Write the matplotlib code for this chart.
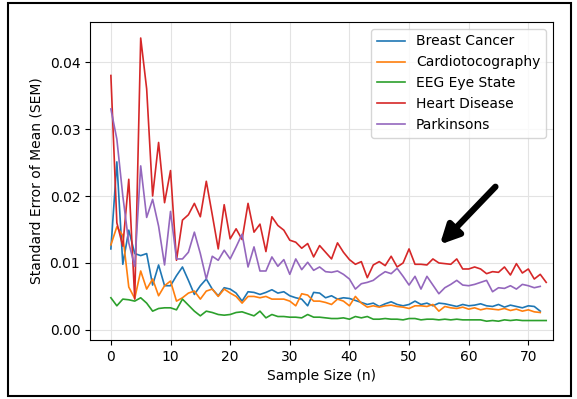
import numpy as np
import matplotlib
matplotlib.use("Agg")
import matplotlib.pyplot as plt
from matplotlib.patches import Rectangle

# SEM per sample size
breast_cancer = [0.0121, 0.0251, 0.0098, 0.0149, 0.0114, 0.0111, 0.0114, 0.0067, 0.0097, 0.0066,
                 0.0066, 0.0081, 0.0094, 0.0074, 0.0053, 0.0066, 0.0076, 0.0061, 0.0051, 0.0063,
                 0.0061, 0.0055, 0.0043, 0.0057, 0.0056, 0.0053, 0.0056, 0.0060, 0.0055, 0.0057,
                 0.0051, 0.0048, 0.0046, 0.0036, 0.0056, 0.0055, 0.0048, 0.0051, 0.0046, 0.0048,
                 0.0047, 0.0044, 0.0041, 0.0038, 0.0040, 0.0035, 0.0039, 0.0042, 0.0038, 0.0036,
                 0.0038, 0.0043, 0.0038, 0.0040, 0.0036, 0.0040, 0.0039, 0.0037, 0.0035, 0.0038,
                 0.0036, 0.0037, 0.0039, 0.0036, 0.0035, 0.0038, 0.0034, 0.0037, 0.0035, 0.0033,
                 0.0036, 0.0035, 0.0028]
cardio = [0.0127, 0.0154, 0.0141, 0.0064, 0.0047, 0.0088, 0.0061, 0.0076, 0.0051, 0.0066,
          0.0073, 0.0043, 0.0048, 0.0055, 0.0058, 0.0046, 0.0058, 0.0061, 0.0050, 0.0061,
          0.0055, 0.0050, 0.0040, 0.0050, 0.0050, 0.0048, 0.0050, 0.0046, 0.0046, 0.0046,
          0.0043, 0.0036, 0.0054, 0.0052, 0.0043, 0.0043, 0.0041, 0.0038, 0.0046, 0.0043,
          0.0036, 0.0050, 0.0040, 0.0034, 0.0036, 0.0034, 0.0036, 0.0037, 0.0035, 0.0034,
          0.0032, 0.0036, 0.0036, 0.0035, 0.0038, 0.0028, 0.0035, 0.0033, 0.0032, 0.0034,
          0.0031, 0.0033, 0.0030, 0.0032, 0.0031, 0.0030, 0.0032, 0.0029, 0.0031, 0.0028,
          0.0030, 0.0027, 0.0026]
eeg = [0.0048, 0.0036, 0.0046, 0.0045, 0.0043, 0.0048, 0.0040, 0.0028, 0.0032, 0.0033,
       0.0033, 0.0030, 0.0046, 0.0037, 0.0028, 0.0021, 0.0028, 0.0026, 0.0023, 0.0022,
       0.0023, 0.0026, 0.0027, 0.0024, 0.0021, 0.0028, 0.0018, 0.0023, 0.0020, 0.0020,
       0.0019, 0.0019, 0.0018, 0.0023, 0.0019, 0.0019, 0.0018, 0.0017, 0.0017, 0.0018,
       0.0016, 0.0020, 0.0018, 0.0020, 0.0016, 0.0016, 0.0017, 0.0016, 0.0016, 0.0015,
       0.0017, 0.0017, 0.0015, 0.0016, 0.0016, 0.0015, 0.0016, 0.0015, 0.0016, 0.0015,
       0.0015, 0.0015, 0.0015, 0.0013, 0.0014, 0.0013, 0.0015, 0.0014, 0.0015, 0.0014,
       0.0014, 0.0014, 0.0014, 0.0014]
heart = [0.0380, 0.0160, 0.0125, 0.0225, 0.0046, 0.0436, 0.0360, 0.0200, 0.0280, 0.0190,
         0.0238, 0.0104, 0.0164, 0.0172, 0.0189, 0.0169, 0.0222, 0.0172, 0.0121, 0.0187,
         0.0136, 0.0151, 0.0135, 0.0189, 0.0146, 0.0158, 0.0117, 0.0169, 0.0156, 0.0149,
         0.0134, 0.0131, 0.0122, 0.0129, 0.0109, 0.0126, 0.0116, 0.0106, 0.0130, 0.0116,
         0.0105, 0.0098, 0.0102, 0.0078, 0.0097, 0.0102, 0.0096, 0.0110, 0.0094, 0.0100,
         0.0121, 0.0098, 0.0098, 0.0097, 0.0106, 0.0100, 0.0099, 0.0098, 0.0106, 0.0091,
         0.0091, 0.0094, 0.0091, 0.0084, 0.0087, 0.0086, 0.0094, 0.0082, 0.0099, 0.0085,
         0.0091, 0.0076, 0.0083, 0.0071]
parkinsons = [0.0330, 0.0285, 0.0200, 0.0130, 0.0095, 0.0245, 0.0168, 0.0195, 0.0155, 0.0097,
              0.0177, 0.0106, 0.0106, 0.0116, 0.0146, 0.0114, 0.0076, 0.0110, 0.0104, 0.0119,
              0.0106, 0.0124, 0.0143, 0.0094, 0.0124, 0.0088, 0.0088, 0.0109, 0.0095, 0.0105,
              0.0083, 0.0106, 0.0090, 0.0101, 0.0089, 0.0094, 0.0087, 0.0086, 0.0088, 0.0083,
              0.0076, 0.0061, 0.0069, 0.0071, 0.0074, 0.0081, 0.0087, 0.0084, 0.0092, 0.0080,
              0.0067, 0.0080, 0.0061, 0.0080, 0.0067, 0.0054, 0.0063, 0.0068, 0.0074, 0.0067,
              0.0066, 0.0068, 0.0071, 0.0074, 0.0057, 0.0063, 0.0062, 0.0066, 0.0061, 0.0068,
              0.0066, 0.0063, 0.0065]

series = [("Breast Cancer", breast_cancer),
          ("Cardiotocography", cardio),
          ("EEG Eye State", eeg),
          ("Heart Disease", heart),
          ("Parkinsons", parkinsons)]

fig = plt.figure(figsize=(5.77, 3.99), dpi=100)
ax = fig.add_axes([0.156, 0.148, 0.802, 0.797])

for name, vals in series:
    ax.plot(np.arange(len(vals)), vals, lw=1.2, label=name)

ax.grid(color="#e3e3e3")
ax.set_xlim(-3.5, 74.1)
ax.set_ylim(-0.0015, 0.046)
ax.set_yticks([0.0, 0.01, 0.02, 0.03, 0.04])
ax.set_xlabel("Sample Size (n)")
ax.set_ylabel("Standard Error of Mean (SEM)")
ax.legend(loc="upper right")

# black arrow pointing at the tail of the curves
ax.annotate("", xy=(0.759, 0.382), xytext=(0.862, 0.537),
            xycoords="figure fraction", textcoords="figure fraction",
            arrowprops=dict(arrowstyle="-|>", lw=4.5, color="black", mutation_scale=28))

# outer frame around the whole picture
fig.patches.append(Rectangle((0.014, 0.008), 0.976, 0.984, transform=fig.transFigure,
                             fill=False, edgecolor="black", lw=1.5))

fig.savefig("out.png", dpi=100)
